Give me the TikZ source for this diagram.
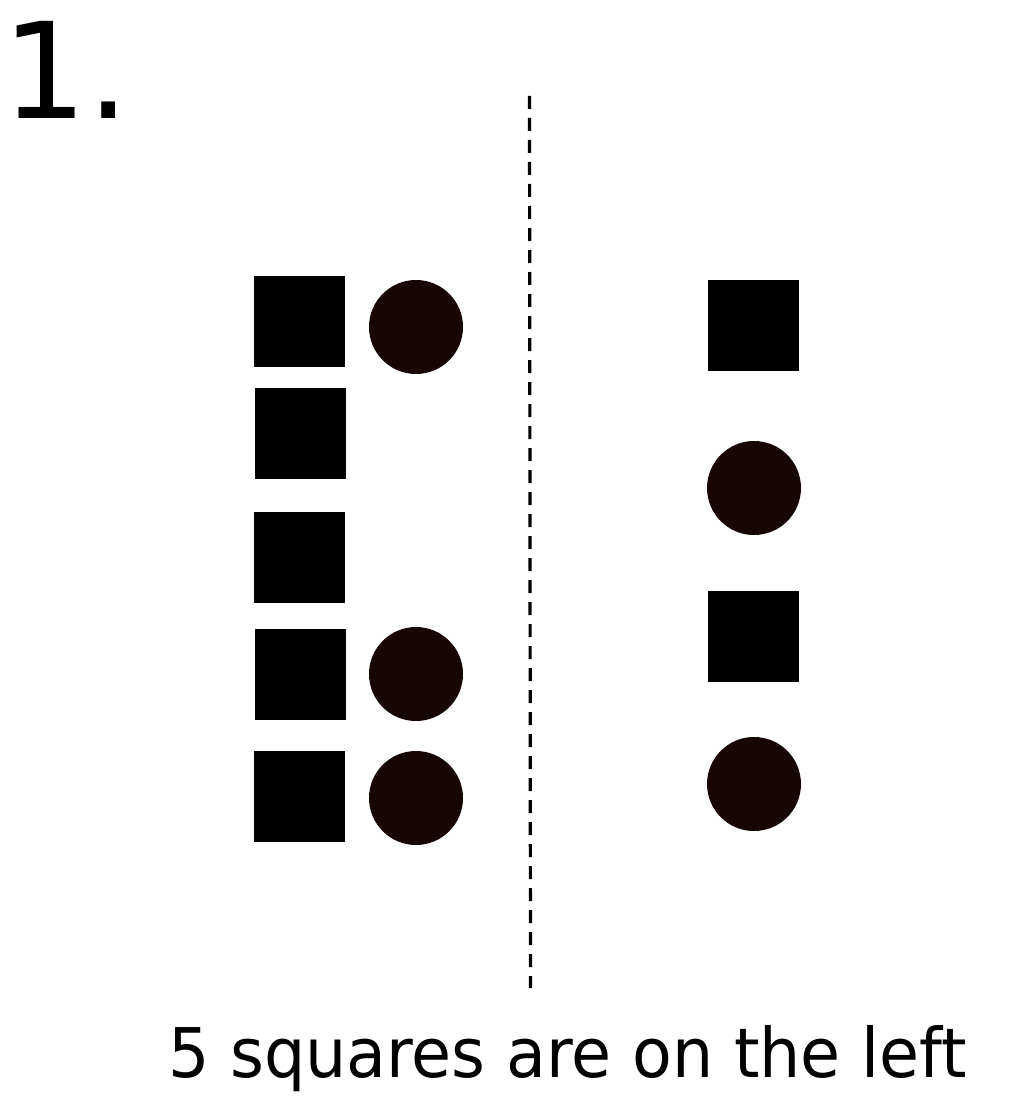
\documentclass[tikz,border=0pt]{standalone}
\usepackage{fontspec}
\usepackage{graphicx}
\setmainfont[Ligatures={NoCommon}]{DejaVu Sans}
\definecolor{dot}{RGB}{24,6,4}
\begin{document}
\begin{tikzpicture}[x=0.75pt,y=-0.75pt,
  sq/.style={fill=black,draw=none,minimum size=68.25pt,inner sep=0pt,shape=rectangle},
  ci/.style={fill=dot,draw=none,minimum size=70.5pt,inner sep=0pt,shape=circle},
  divider/.style={line width=2.4pt,dash pattern=on 9.75pt off 6.75pt}]
\useasboundingbox (0,0) rectangle (1008,1109);
\node[sq] (s1) at (299.5,321.5) {};
\node[sq] (s2) at (300.5,433.5) {};
\node[sq] (s3) at (299.5,557.5) {};
\node[sq] (s4) at (300.5,674.5) {};
\node[sq] (s5) at (299.5,796.5) {};
\node[ci] (c1) at (416,327) {};
\node[ci] (c2) at (416,674) {};
\node[ci] (c3) at (416,798) {};
\node[sq] (r1) at (753.5,325.5) {};
\node[ci] (r2) at (754,488) {};
\node[sq] (r3) at (753.5,636.5) {};
\node[ci] (r4) at (754,784) {};
\coordinate (dtop) at (529.5,96);
\coordinate (dbot) at (530.5,988);
\draw[divider] (dtop) -- (dbot);
\node[anchor=base west,inner sep=0pt,font=\fontsize{100pt}{110pt}\selectfont] (num) at (2,119) {1.};
\node[anchor=base west,inner sep=0pt,font=\fontsize{51.4pt}{60pt}\selectfont] (cap) at (168,1077) {\resizebox{599pt}{\height}{5 squares are on the left}};
\end{tikzpicture}
\end{document}
